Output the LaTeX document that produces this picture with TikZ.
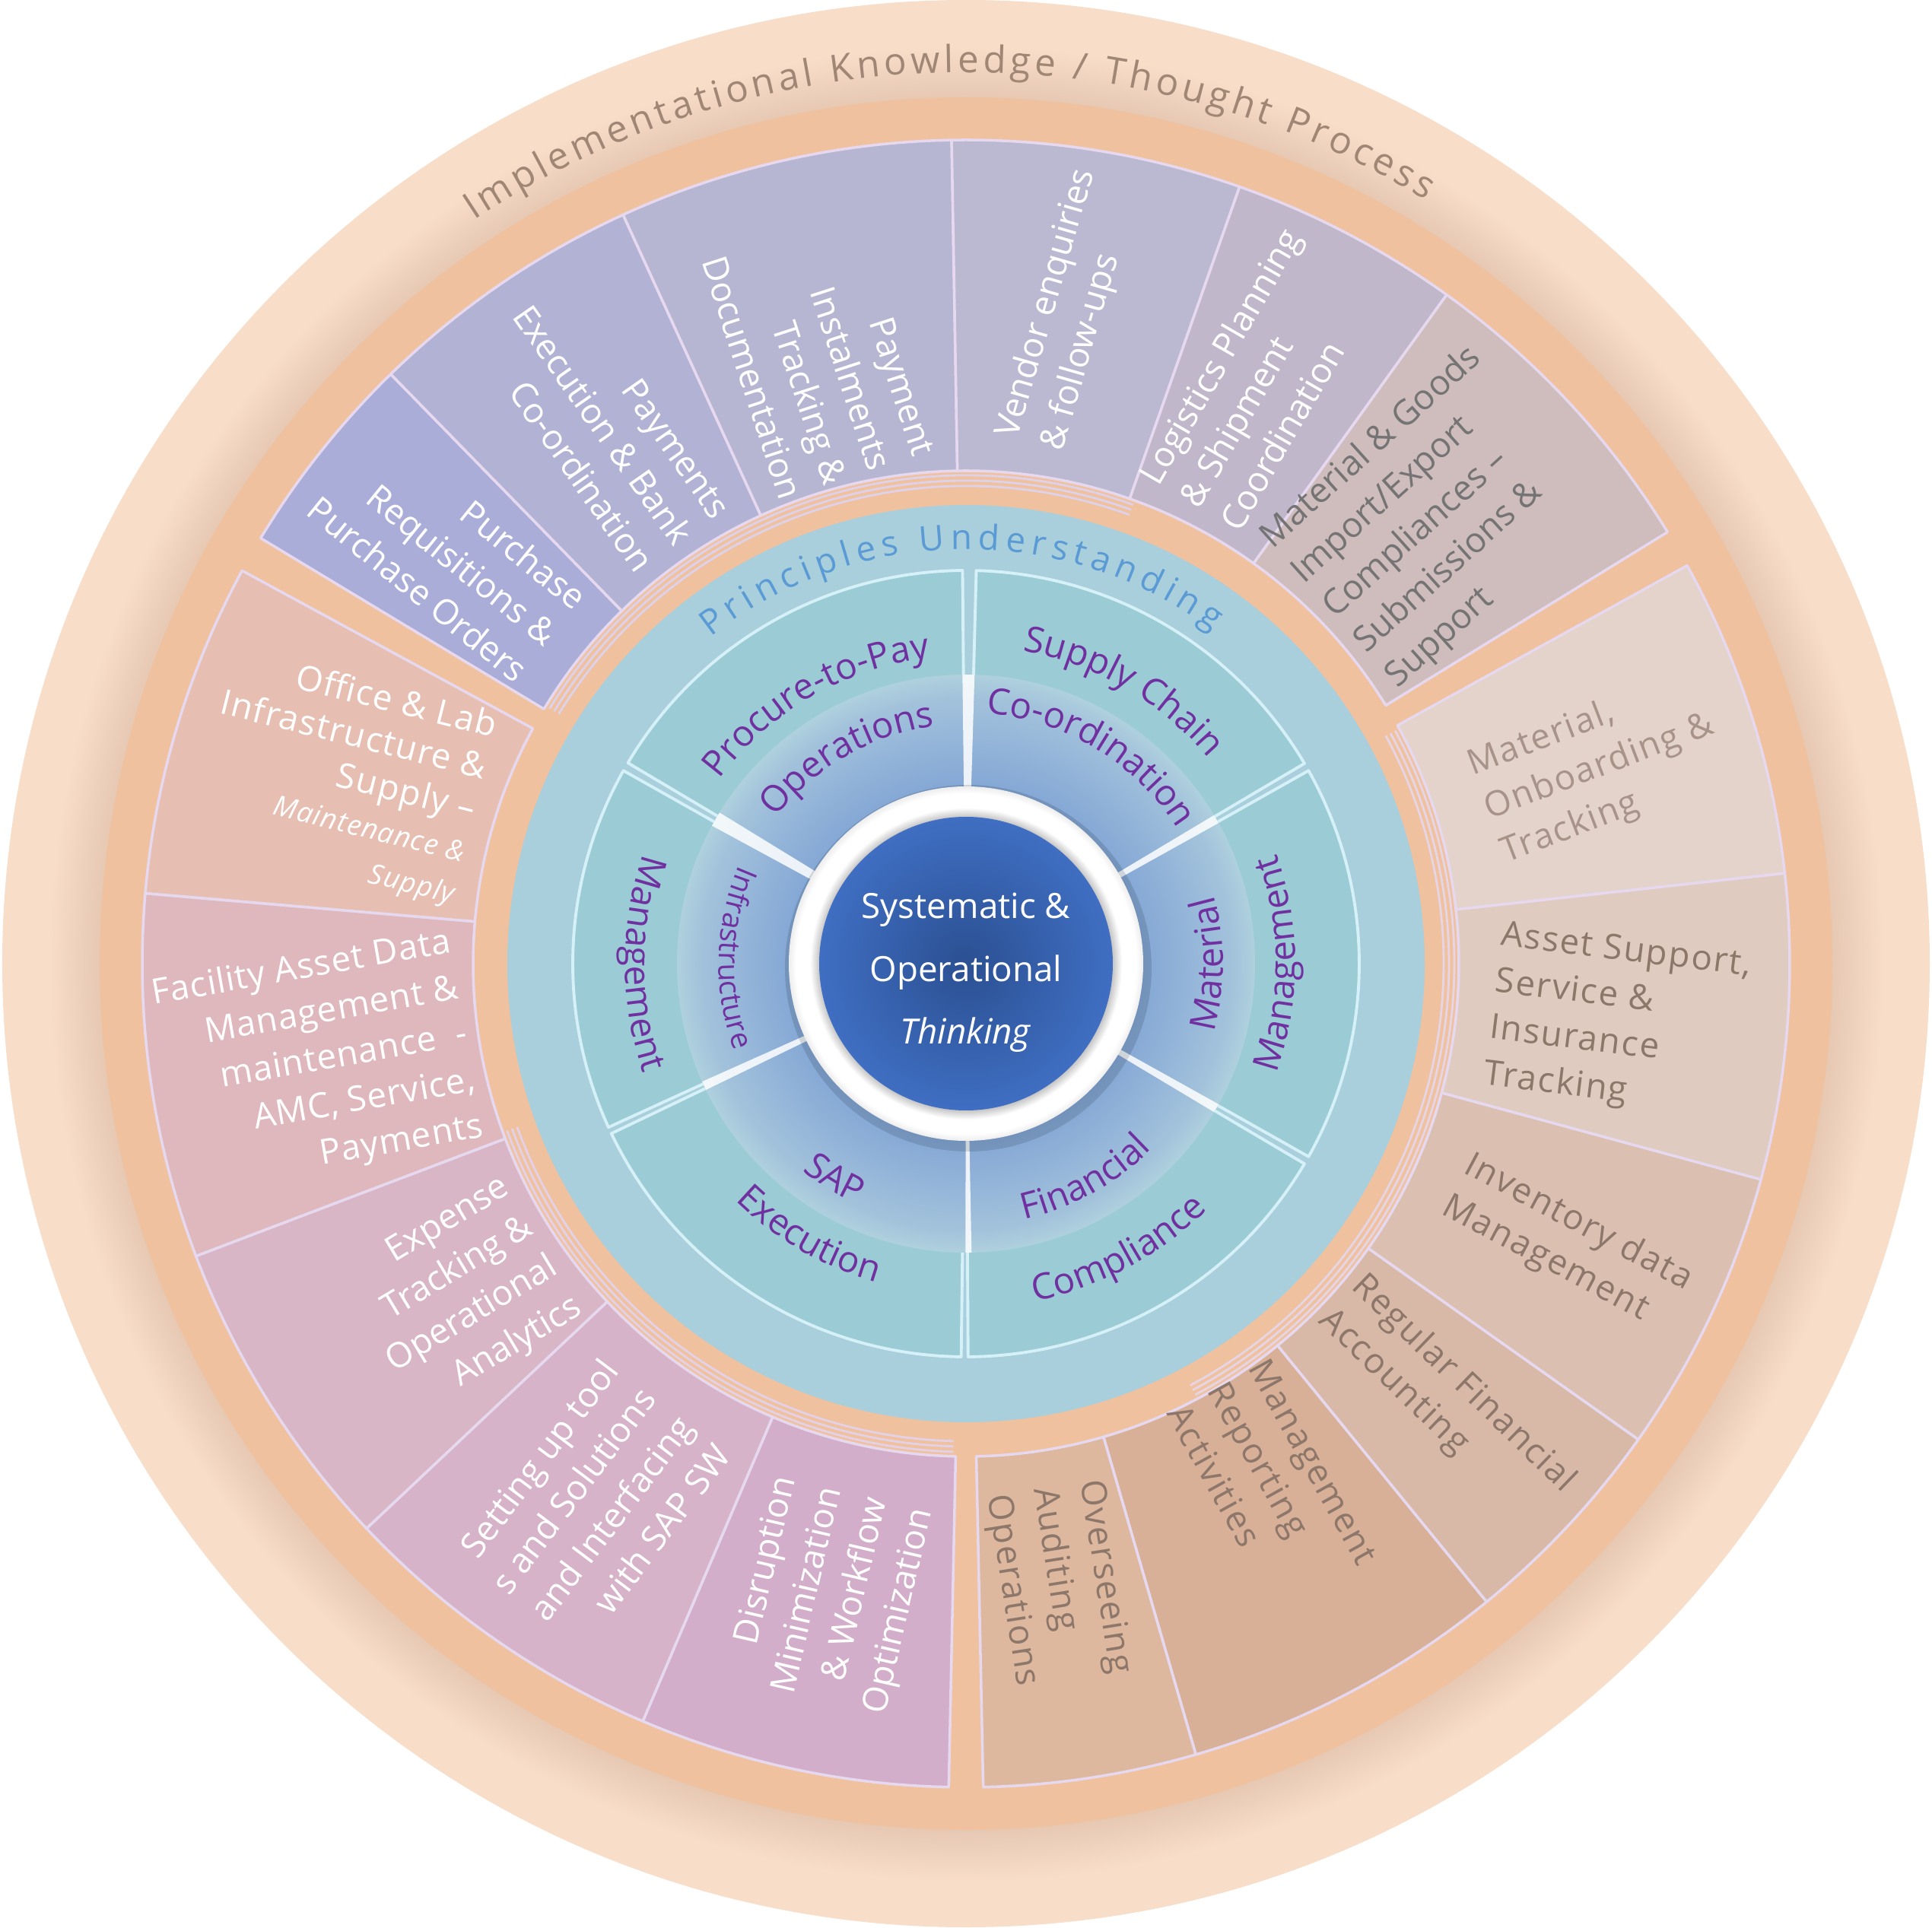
\documentclass[tikz,border=0pt]{standalone}
\usepackage{fontspec}
\setmainfont{Open Sans}
\usetikzlibrary{decorations.text}

\definecolor{peachlight}{HTML}{F8DDC9}
\definecolor{peachshade}{HTML}{E6C8B3}
\definecolor{peachring}{HTML}{F0C19F}
\definecolor{ringblue}{HTML}{A9CEDC}
\definecolor{tealband}{HTML}{9BCCD6}
\definecolor{tealline}{HTML}{D6F0F8}
\definecolor{lavline}{HTML}{E6D8EE}
\definecolor{bandin}{HTML}{84A7D5}
\definecolor{bandmid}{HTML}{A2C2DB}
\definecolor{bandout}{HTML}{AFD0DD}
\definecolor{corein}{HTML}{2B5092}
\definecolor{coreout}{HTML}{3F6EC2}
\definecolor{labelpurple}{HTML}{7030A0}
\definecolor{principleblue}{HTML}{5B9BD5}
\definecolor{ringtext}{HTML}{A08775}
\definecolor{greytext}{HTML}{747474}
\definecolor{browntext}{HTML}{8C776A}
\definecolor{palebrown}{HTML}{A8938A}
\definecolor{segPR}{HTML}{A9ADD7}
\definecolor{segPE}{HTML}{B2B3D4}
\definecolor{segPI}{HTML}{B6B6D3}
\definecolor{segVE}{HTML}{BBB8D1}
\definecolor{segLP}{HTML}{C0B7CA}
\definecolor{segMG}{HTML}{CFBCBD}
\definecolor{segMO}{HTML}{E3D3CB}
\definecolor{segAS}{HTML}{E0CBC0}
\definecolor{segIV}{HTML}{DBC0B2}
\definecolor{segRF}{HTML}{D8B9A7}
\definecolor{segMR}{HTML}{D8AF97}
\definecolor{segOV}{HTML}{DDB89E}
\definecolor{segDM}{HTML}{D3AECA}
\definecolor{segSU}{HTML}{D6B3C9}
\definecolor{segET}{HTML}{D9B6C5}
\definecolor{segFA}{HTML}{DFB8BD}
\definecolor{segOL}{HTML}{E6BEB2}

\pgfdeclareradialshading{peachglow}{\pgfpoint{0cm}{0cm}}{color(0bp)=(peachring); color(22.4bp)=(peachring); color(22.47bp)=(peachshade); color(23.8bp)=(peachlight); color(25bp)=(peachlight); color(50bp)=(peachlight)}
\pgfdeclareradialshading{bandglow}{\pgfpoint{0cm}{0cm}}{color(0bp)=(bandin); color(15.3bp)=(bandin); color(23bp)=(bandmid); color(25bp)=(bandout); color(50bp)=(bandout)}
\pgfdeclareradialshading{ringshade}{\pgfpoint{0cm}{0cm}}{color(0bp)=(gray); color(20.7bp)=(gray!45); color(22bp)=(white); color(24bp)=(white); color(25bp)=(white!93!black); color(50bp)=(white)}

\newcommand{\inlabelfont}{\fontsize{13.5}{16}\selectfont}
\newcommand{\ringfont}{\fontsize{14}{16}\selectfont}

\tikzset{
  segline/.style={draw=lavline, line width=1pt, line join=round},
  innerseg/.style={fill=tealband, draw=tealline, line width=1.1pt, line join=round},
  segtext/.style={font=\fontsize{13}{17.5}\selectfont, inner sep=0pt},
  widetext/.style={font=\fontsize{13}{17.5}\selectfont\addfontfeatures{LetterSpace=#1}},
  inwardtext/.style={segtext, text=white, align=right},
  outwardtext/.style={segtext, text=white, align=left},
  greytext/.style={segtext, text=greytext, align=left},
  browntext/.style={segtext, text=browntext, align=left, widetext=4},
  arclabel/.style={decorate, decoration={text along path, text align=center, text color=labelpurple, text={#1}}},
}

\begin{document}
\begin{tikzpicture}
\useasboundingbox (-12.70,-12.67) rectangle (12.70,12.67);
\fill[white] (-12.70,-12.67) rectangle (12.70,12.67);

\shade[shading=peachglow] (0,0) circle (12.67);
\fill[peachring] (0,0) circle (11.39);

\foreach \a/\b/\c in {134.3/148.9/segPR, 114.6/134.3/segPE, 91/114.6/segPI, 70.6/91/segVE, 54.3/70.6/segLP, 31.6/54.3/segMG,
                      6.3/28.9/segMO, -15.2/6.3/segAS, -35.3/-15.2/segIV, -50.8/-35.3/segRF, -73.8/-50.8/segMR, -88.8/-73.8/segOV,
                      246.9/268.8/segDM, 223.3/246.9/segSU, 200.8/223.3/segET, 175.1/200.8/segFA, 151.5/175.1/segOL}
  \filldraw[segline, fill=\c] (\a:6.48) arc[start angle=\a, end angle=\b, radius=6.48] -- (\b:10.83) arc[start angle=\b, end angle=\a, radius=10.83] -- cycle;

\foreach \r in {6.42,6.35,6.28} {
  \draw[lavline!85!segPE, line width=0.8pt] (70:\r) arc[start angle=70, end angle=148.5, radius=\r];
  \draw[lavline!80!segAS, line width=0.8pt] (-62:\r) arc[start angle=-62, end angle=28.5, radius=\r];
  \draw[lavline!80!segSU, line width=0.8pt] (200:\r) arc[start angle=200, end angle=268.5, radius=\r];
}

\fill[ringblue] (0,0) circle (6.03);

\path[decorate, decoration={text along path, text align=fit to path, text color=ringtext, text={|\ringfont|Implementational Knowledge / Thought Process}}] (123.5:11.72) arc[start angle=123.5, end angle=59, radius=11.72];
\path[decorate, decoration={text along path, text align=fit to path, text color=principleblue, text={|\fontsize{13}{15}\selectfont|Principles Understanding}}] (128:5.45) arc[start angle=128, end angle=53.5, radius=5.45];

\foreach \a/\b in {90.5/149.3, 30.6/88.5, -29.4/29.4, -89.7/-30.6, 205.6/269.3, 150.6/204.6}
  \filldraw[innerseg] (\a:2.4) arc[start angle=\a, end angle=\b, radius=2.4] -- (\b:5.17) arc[start angle=\b, end angle=\a, radius=5.17] -- cycle;

\shade[shading=bandglow] (0,0) circle (3.8);
\foreach \c/\w in {89.5/1.2, 30/0.9, -30/0.9, -89.5/0.6, 205/0.9, 150/1.5}
  \fill[white, opacity=0.85] ({\c-\w}:2.3) arc[start angle={\c-\w}, end angle={\c+\w}, radius=2.3] -- ({\c+\w}:3.8) arc[start angle={\c+\w}, end angle={\c-\w}, radius=3.8] -- cycle;

\fill[black, opacity=0.12] (0.03,-0.06) circle (2.41);
\shade[shading=ringshade] (0,0) circle (2.33);
\shade[inner color=corein, outer color=coreout] (0,0) circle (1.93);
\node[align=center, text=white, font=\fontsize{13}{23.5}\selectfont] (core) at (0,-0.12) {Systematic \&\\Operational\\\textit{Thinking}};

\path[arclabel={|\inlabelfont|Procure-to-Pay}] (160:4.05) arc[start angle=160, end angle=80, radius=4.05];
\path[arclabel={|\inlabelfont|Operations}] (160:3.15) arc[start angle=160, end angle=80, radius=3.15];
\path[arclabel={|\inlabelfont|Supply Chain}] (100:4.18) arc[start angle=100, end angle=20, radius=4.18];
\path[arclabel={|\inlabelfont|Co-ordination}] (99:3.3) arc[start angle=99, end angle=19, radius=3.3];
\path[arclabel={|\inlabelfont|Material}] (-40:3.38) arc[start angle=-40, end angle=40, radius=3.38];
\path[arclabel={|\inlabelfont|Management}] (-40:4.33) arc[start angle=-40, end angle=40, radius=4.33];
\path[arclabel={|\inlabelfont|Financial}] (-101:3.45) arc[start angle=-101, end angle=-21, radius=3.45];
\path[arclabel={|\inlabelfont|Compliance}] (-102:4.53) arc[start angle=-102, end angle=-22, radius=4.53];
\path[arclabel={|\inlabelfont|SAP}] (198.6:3.47) arc[start angle=198.6, end angle=278.6, radius=3.47];
\path[arclabel={|\inlabelfont|Execution}] (200:4.35) arc[start angle=200, end angle=280, radius=4.35];
\path[arclabel={|\inlabelfont|Management}] (140:4.48) arc[start angle=140, end angle=220, radius=4.48];
\path[arclabel={|\fontsize{11}{13}\selectfont|Infrastructure}] (138.6:3.25) arc[start angle=138.6, end angle=218.6, radius=3.25];

\node[inwardtext, rotate=-39] (pr) at (141.6:8.7) {Purchase\\Requisitions \&\\Purchase Orders};
\node[inwardtext, rotate=-55] (pe) at (124:8.54) {Payments\\Execution \& Bank\\Co-ordination};
\node[inwardtext, rotate=-72] (pi) at (103.6:8.22) {Payment\\Instalments\\Tracking \&\\Documentation};
\node[outwardtext, rotate=74] (ve) at (81:8.7) {Vendor enquiries\\\& follow-ups};
\node[outwardtext, rotate=60] (lp) at (63.3:8.6) {Logistics Planning\\\& Shipment\\Coordination};
\node[greytext, rotate=42] (mg) at (43.6:8.5) {Material \& Goods\\Import/Export\\Compliances –\\Submissions \&\\Support};
\node[browntext, text=palebrown, rotate=21] (mo) at (17.2:8.72) {Material,\\Onboarding \&\\Tracking};
\node[browntext, rotate=-7] (as) at (-5.1:8.6) {Asset Support,\\Service \&\\Insurance\\Tracking};
\node[browntext, rotate=-28] (iv) at (-25:8.72) {Inventory data\\Management};
\node[browntext, rotate=-44] (rf) at (-42.3:8.55) {Regular Financial\\Accounting};
\node[browntext, rotate=-61] (mr) at (-59.5:7.95) {Management\\Reporting\\Activities};
\node[browntext, rotate=-81] (ov) at (-81.6:8.25) {Overseeing\\Auditing\\Operations};
\node[inwardtext, rotate=77] (dm) at (258:8.5) {Disruption\\Minimization\\\& Workflow\\Optimization};
\node[inwardtext, rotate=53] (su) at (235.3:8.65) {Setting up tool\\s and Solutions\\and Interfacing\\with SAP SW};
\node[inwardtext, rotate=31] (et) at (213.3:7.95) {Expense\\Tracking \&\\Operational\\Analytics};
\node[inwardtext, widetext=2, rotate=10] (fa) at (188.6:8.62) {Facility Asset Data\\Management \&\\maintenance~~-\\AMC, Service,\\Payments};
\node[inwardtext, font=\fontsize{13}{16}\selectfont\addfontfeatures{LetterSpace=3}, rotate=-14] (ol) at (163.4:8.55) {Office \& Lab\\Infrastructure \&\\Supply –\\{\fontsize{10.5}{13}\selectfont\itshape Maintenance \&}\\{\fontsize{10.5}{13}\selectfont\itshape Supply}};
\end{tikzpicture}
\end{document}
